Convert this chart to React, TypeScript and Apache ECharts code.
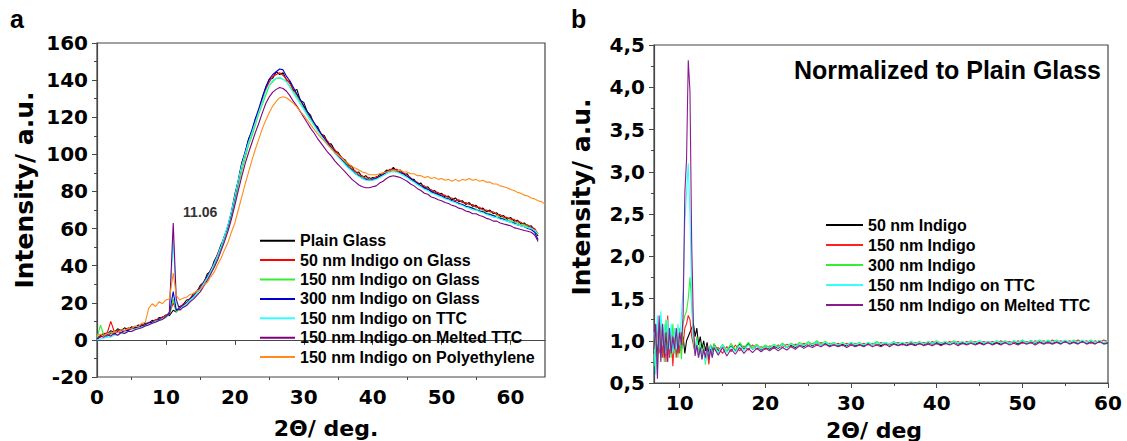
import React, { useEffect, useRef } from "react";
import * as echarts from "echarts";

// ---------- Panel a: raw XRD intensity ----------
const peakTheta = 11.06;

const thetaA = [
  0, 0.5, 1, 1.5, 2, 2.5, 3, 3.5, 4, 4.5, 5, 5.5, 6, 6.5, 7, 7.5, 8, 8.5, 9, 9.5, 10, 10.5, peakTheta, 11.5,
  12, 12.5, 13, 13.5, 14, 14.5, 15, 15.5, 16, 16.5, 17, 17.5, 18, 18.5, 19, 19.5, 20, 20.5, 21, 21.5, 22, 22.5,
  23, 23.5, 24, 24.5, 25, 25.5, 26, 26.5, 27, 27.5, 28, 28.5, 29, 29.5, 30, 30.5, 31, 31.5, 32, 32.5, 33, 33.5,
  34, 34.5, 35, 35.5, 36, 36.5, 37, 37.5, 38, 38.5, 39, 39.5, 40, 40.5, 41, 41.5, 42, 42.5, 43, 43.5, 44, 44.5,
  45, 45.5, 46, 46.5, 47, 47.5, 48, 48.5, 49, 49.5, 50, 50.5, 51, 51.5, 52, 52.5, 53, 53.5, 54, 54.5, 55, 55.5,
  56, 56.5, 57, 57.5, 58, 58.5, 59, 59.5, 60, 60.5, 61, 61.5, 62, 62.5, 63, 63.5, 64, 64.5, 65,
];

const plainGlass = [
  0.5, 2.5, 3.5, 3, 5, 4, 6, 5, 6.5, 5.5, 7, 6.5, 8, 7.5, 9, 9, 10.5, 10, 12, 12, 13.5, 13, 16, 15,
  18, 19, 21.5, 22, 25, 26, 29.5, 31, 35.5, 37, 42.5, 46, 51.5, 55, 61.5, 69, 78.5, 86, 95.5, 101, 108.5, 112,
  119.5, 123, 130.5, 136, 140.5, 141, 144.5, 143, 144, 140, 139, 134, 135, 129, 128, 123, 121, 116, 115, 111, 110, 106,
  105.5, 102, 101, 98, 97, 94, 93.5, 90, 90.5, 87.5, 88.5, 86.5, 87.5, 87, 89, 89.5, 91.5, 91, 93, 91, 91.5, 89,
  89.5, 86.5, 86.5, 84, 84.5, 82, 82.5, 80, 80.5, 78.5, 79, 77, 77.5, 75.5, 76.5, 74.5, 75, 73, 74, 72, 72.5, 70.5,
  71, 69, 70, 68, 68.5, 66.5, 67, 65, 66, 64, 64.5, 62.5, 63, 61, 61.5, 59, 56,
];

const indigo50Glass = [
  1, 2, 3, 4, 10, 4.5, 5, 5.5, 5, 6.5, 6, 7, 7, 8.5, 8, 9.5, 9.5, 11, 11, 12.5, 13, 14, 20, 16,
  17, 19.5, 20, 22.5, 24, 26.5, 28.5, 31.5, 34, 38, 41, 46.5, 50, 56, 60, 68, 77, 85, 94, 100, 107, 112,
  118, 124, 129, 135, 139, 142, 143, 144, 142.5, 140.5, 138, 135, 132, 129, 126, 123, 120, 117, 114, 111.5, 109, 107,
  104, 102.5, 100, 98.5, 96, 94.5, 92, 91, 89, 88.5, 87, 87.5, 86.5, 88, 88, 90, 90.5, 92, 91.5, 92, 90.5, 90,
  88.5, 87.5, 85.5, 85, 83, 83, 81, 81, 79.5, 79.5, 78, 78, 76.5, 76.5, 75, 75.5, 74, 74, 73, 73, 71.5, 71.5,
  70, 70, 69, 69, 67.5, 67.5, 66, 66, 65, 65, 63.5, 63.5, 62, 62, 60.5, 60, 57,
];

const indigo150Glass = [
  1, 8, 2.5, 3, 4, 3.5, 4.5, 4, 5, 5, 6, 6, 7, 7, 8, 8.5, 9, 10, 10.5, 11.5, 12, 14, 22, 15,
  16.5, 18, 19.5, 21, 23, 25, 27.5, 30, 33, 36.5, 40, 44.5, 49, 54.5, 60, 66, 74, 83, 91, 98, 105, 110,
  116, 122, 127, 132, 137, 139, 141, 141, 140.5, 139, 136.5, 133.5, 131, 127.5, 125, 121.5, 119, 116, 113, 110.5, 108, 105.5,
  103.5, 101, 99.5, 97, 95.5, 93.5, 91.5, 90, 88.5, 87.5, 86.5, 86.5, 86, 87, 87.5, 89, 90, 91, 91, 90.5, 90, 89,
  88, 86.5, 85.5, 84, 83, 81.5, 81, 79.5, 79, 78, 77.5, 76.5, 76, 75, 74.5, 73.5, 73, 72, 72, 71, 70.5, 69.5,
  69.5, 68.5, 68, 67, 67, 66, 65.5, 64.5, 64.5, 63.5, 63, 62, 62, 61, 60, 59, 57,
];

const indigo300Glass = [
  0.5, 1.5, 2.5, 2, 3.5, 3, 4.5, 4, 5, 5, 6, 6.5, 7, 7.5, 8, 9, 9.5, 10, 11, 11.5, 12.5, 14, 26, 16,
  17, 18.5, 20, 22, 23.5, 26, 28, 31, 34, 37.5, 41, 45.5, 50.5, 56, 61.5, 68.5, 77, 86, 94.5, 101.5, 108, 113.5,
  119.5, 125, 131, 136.5, 140.5, 143, 144.5, 146, 145.5, 142, 139.5, 136, 132.5, 129.5, 126, 123, 120, 117, 114, 111, 108.5, 106,
  103.5, 101.5, 99, 97, 95, 93, 91.5, 89.5, 88.5, 87, 86.5, 86, 86.5, 87, 88, 89, 90.5, 91, 91.5, 91, 90, 89.5,
  88, 87, 85.5, 84.5, 83, 82, 81, 80, 79, 78.5, 77.5, 76.5, 76, 75, 74.5, 73.5, 73, 72, 71.5, 71, 70, 69.5,
  69, 68, 67.5, 67, 66, 65.5, 65, 64, 63.5, 63, 62, 61.5, 61, 60, 59.5, 58, 54,
];

const indigo150TTC = [
  0, 0.5, 1, 1.5, 1.5, 2.5, 2.5, 3.5, 3.5, 4.5, 4.5, 5.5, 6, 7, 7.5, 8.5, 9, 10, 10.5, 11.5, 12.5, 15, 55, 20,
  16.5, 18, 19.5, 21.5, 23, 25.5, 27.5, 30.5, 33.5, 37, 41, 45.5, 50.5, 56, 62, 69, 77.5, 86, 94, 100.5, 106.5, 112,
  117.5, 123, 128.5, 134, 137.5, 140, 141, 141.5, 140.5, 139, 136, 133, 130, 127, 124, 121, 118, 115.5, 112.5, 110, 107.5, 105,
  103, 100.5, 98.5, 96.5, 94.5, 92.5, 91, 89.5, 88, 87, 86, 86, 86, 86.5, 87.5, 88.5, 89.5, 90.5, 90.5, 90.5, 89.5, 88.5,
  87.5, 86, 85, 83.5, 82.5, 81, 80.5, 79, 78.5, 77.5, 77, 76, 75.5, 74.5, 74, 73, 72.5, 71.5, 71, 70, 70, 69,
  68.5, 67.5, 67, 66, 66, 65, 64.5, 64, 63.5, 62.5, 62, 61.5, 61, 60.5, 60, 59, 57,
];

const indigo150MeltedTTC = [
  0.5, 2, 1.5, 3, 2, 3.5, 2.5, 4, 3.5, 4.5, 4.5, 5.5, 6, 6.5, 7.5, 8, 9, 9.5, 10.5, 11, 12.5, 15, 63, 22,
  16, 17.5, 18.5, 20.5, 22, 24, 26, 29, 32, 35.5, 39, 43, 48, 53, 58.5, 65, 72.5, 80.5, 88, 95, 101, 106.5,
  112, 117, 122.5, 127.5, 131, 133.5, 135, 136, 135.5, 134, 131.5, 128.5, 126, 123, 120, 117, 114, 111.5, 108.5, 106, 103.5, 101,
  99, 96.5, 94.5, 92.5, 90.5, 88.5, 86.5, 85, 83.5, 82.5, 82, 82, 82.5, 83, 84.5, 85.5, 87, 88, 88.5, 88, 87.5, 86.5,
  85.5, 84, 83, 81.5, 80.5, 79, 78.5, 77, 76.5, 75.5, 75, 74, 73.5, 72.5, 72, 71, 70.5, 69.5, 69, 68, 68, 67,
  66.5, 65.5, 65, 64, 64, 63, 62.5, 62, 61.5, 60.5, 60, 59.5, 59, 58.5, 58, 56.5, 53,
];

const indigo150PE = [
  2.5, 3, 2, 3.5, 3, 4.5, 4, 5.5, 5, 6, 6, 7.5, 7, 9, 9.5, 17, 19.5, 18, 20.5, 19.5, 21.5, 22, 36, 24,
  21.5, 22.5, 23, 24.5, 25, 26.5, 27, 29.5, 31, 34, 36.5, 40.5, 44, 48.5, 52.5, 58, 63, 70, 77, 84, 90.5, 97,
  103, 108.5, 114, 118.5, 122.5, 126, 128.5, 130.5, 131, 130.5, 129, 127.5, 125.5, 123, 121, 118.5, 116, 113.5, 111, 109, 107, 105,
  103, 101, 99.5, 98, 96.5, 95, 93.5, 92.5, 91.5, 90.5, 90, 89, 89, 89, 89.5, 90, 90.5, 91, 91.5, 91, 91.5, 90.5,
  90.5, 89.5, 89.5, 88.5, 88.5, 87.5, 88, 87, 87.5, 86.5, 87, 86, 86.5, 85.5, 86.5, 85.5, 86.5, 86, 87, 86, 86.5, 85.5,
  86, 85, 85, 84, 84, 83, 82.5, 82, 81, 80.5, 79.5, 79, 78, 77.5, 76.5, 76, 75, 74.5, 73,
];

const namesA = [
  "Plain Glass",
  "50 nm Indigo on Glass",
  "150 nm Indigo on Glass",
  "300 nm Indigo on Glass",
  "150 nm Indigo on TTC",
  "150 nm Indigo on Melted TTC",
  "150 nm Indigo on Polyethylene",
];
const valuesA = [plainGlass, indigo50Glass, indigo150Glass, indigo300Glass, indigo150TTC, indigo150MeltedTTC, indigo150PE];
const colorsA = ["#000000", "#ff0000", "#33ee33", "#0000d0", "#33ffff", "#800080", "#ff8c1a"];

const xTicksA = [0, 10, 20, 30, 40, 50, 60];
const xMinorA = [5, 15, 25, 35, 45, 55];

// ---------- Panel b: normalised to plain glass ----------
const thetaB = [
  7, 7.2, 7.4, 7.6, 7.8, 8, 8.2, 8.4, 8.6, 8.8, 9, 9.2, 9.4, 9.6, 9.8, 10, 10.2, 10.4, 10.6, 10.8, 11, 11.2, 11.4, 11.6,
  11.8, 12, 12.2, 12.4, 12.6, 12.8, 13, 13.2, 13.4, 13.6, 13.8, 14,
  14.5, 15, 15.5, 16, 16.5, 17, 17.5, 18, 18.5, 19, 19.5, 20, 20.5, 21, 21.5, 22, 22.5, 23, 23.5, 24, 24.5, 25,
  25.5, 26, 26.5, 27, 27.5, 28, 28.5, 29, 29.5, 30, 30.5, 31, 31.5, 32, 32.5, 33, 33.5, 34, 34.5, 35, 35.5, 36,
  36.5, 37, 37.5, 38, 38.5, 39, 39.5, 40, 40.5, 41, 41.5, 42, 42.5, 43, 43.5, 44, 44.5, 45, 45.5, 46, 46.5, 47,
  47.5, 48, 48.5, 49, 49.5, 50, 50.5, 51, 51.5, 52, 52.5, 53, 53.5, 54, 54.5, 55, 55.5, 56, 56.5, 57, 57.5, 58,
  58.5, 59, 59.5, 60,
];

const norm50 = [
  0.85, 1.1, 0.8, 1.15, 0.9, 1.05, 0.85, 1.1, 0.9, 1.05, 0.88, 1.1, 0.92, 1.05, 0.9, 1.0, 0.88, 1.05, 0.85, 1.0, 1.05, 1.1, 1.15, 1.2,
  1.05, 1.15, 0.95, 1.05, 0.9, 1.0, 0.88, 0.98, 0.85, 0.95, 0.88, 0.96,
  0.88, 0.95, 0.87, 0.94, 0.88, 0.96, 0.9, 0.97, 0.9, 0.94, 0.89, 0.93, 0.9, 0.94, 0.91, 0.95, 0.92, 0.95, 0.92, 0.96, 0.93, 0.97,
  0.94, 0.98, 0.95, 0.97, 0.94, 0.97, 0.94, 0.96, 0.94, 0.97, 0.94, 0.96, 0.94, 0.97, 0.95, 0.97, 0.94, 0.98, 0.95, 0.97, 0.95, 0.97,
  0.95, 0.98, 0.95, 0.97, 0.95, 0.98, 0.96, 0.98, 0.95, 0.98, 0.96, 0.99, 0.96, 0.98, 0.96, 0.99, 0.96, 0.98, 0.96, 0.99, 0.96, 0.98,
  0.96, 0.99, 0.97, 0.99, 0.96, 0.99, 0.97, 1.0, 0.97, 0.99, 0.97, 1.0, 0.97, 0.99, 0.97, 1.0, 0.97, 0.99, 0.97, 1.0, 0.97, 0.99,
  0.97, 1.0, 0.97, 0.98,
];

const norm150 = [
  1.0, 0.75, 1.2, 0.85, 1.25, 0.8, 1.1, 0.75, 1.3, 0.8, 1.1, 0.7, 1.05, 0.8, 1.1, 0.85, 1.1, 0.95, 1.15, 1.2, 1.3, 1.25, 1.05, 0.95,
  0.85, 1.0, 0.82, 0.95, 0.8, 0.92, 0.78, 0.9, 0.72, 0.92, 0.82, 0.9,
  0.92, 0.85, 0.93, 0.87, 0.95, 0.88, 0.94, 0.89, 0.95, 0.9, 0.93, 0.9, 0.94, 0.91, 0.95, 0.92, 0.96, 0.93, 0.96, 0.94, 0.97, 0.94,
  0.97, 0.95, 0.98, 0.95, 0.97, 0.95, 0.97, 0.94, 0.97, 0.95, 0.97, 0.95, 0.97, 0.95, 0.97, 0.95, 0.98, 0.95, 0.97, 0.96, 0.98, 0.95,
  0.98, 0.96, 0.98, 0.96, 0.98, 0.96, 0.99, 0.96, 0.98, 0.96, 0.99, 0.97, 0.99, 0.96, 0.99, 0.97, 0.99, 0.97, 0.99, 0.97, 0.99, 0.97,
  1.0, 0.97, 0.99, 0.97, 1.0, 0.97, 0.99, 0.97, 1.0, 0.98, 1.0, 0.97, 1.01, 0.98, 1.0, 0.98, 1.0, 0.98, 1.01, 0.98, 1.0, 0.97,
  1.0, 0.98, 1.01, 0.99,
];

const norm300 = [
  0.7, 1.1, 0.65, 1.2, 0.8, 1.15, 0.75, 1.25, 0.85, 1.1, 0.8, 1.2, 0.85, 1.1, 0.8, 1.15, 0.78, 1.2, 1.3, 1.35, 1.5, 1.75, 1.45, 1.0,
  0.9, 1.05, 0.85, 0.98, 0.8, 0.95, 0.72, 0.92, 0.8, 0.95, 0.84, 0.97,
  0.86, 0.96, 0.88, 0.97, 0.89, 0.98, 0.91, 0.98, 0.92, 0.96, 0.91, 0.95, 0.92, 0.96, 0.93, 0.97, 0.93, 0.97, 0.94, 0.98, 0.95, 0.99,
  0.96, 1.0, 0.96, 0.99, 0.96, 0.98, 0.95, 0.98, 0.95, 0.98, 0.96, 0.98, 0.95, 0.98, 0.96, 0.99, 0.96, 0.98, 0.96, 0.99, 0.96, 0.98,
  0.96, 0.99, 0.97, 0.99, 0.96, 0.99, 0.97, 1.0, 0.97, 0.99, 0.97, 1.0, 0.97, 0.99, 0.97, 1.0, 0.97, 1.0, 0.97, 0.99, 0.97, 1.0,
  0.98, 1.0, 0.97, 1.0, 0.98, 1.01, 0.98, 1.0, 0.98, 1.01, 0.98, 1.0, 0.98, 1.01, 0.98, 1.0, 0.98, 1.01, 0.98, 1.0, 0.98, 1.01,
  0.98, 1.0, 0.98, 1.0,
];

const normTTC = [
  1.1, 0.6, 1.3, 0.9, 1.35, 0.95, 1.2, 0.85, 1.25, 0.9, 1.2, 0.85, 1.15, 0.9, 1.2, 0.95, 1.3, 1.6, 2.4, 2.75, 3.1, 2.5, 1.5, 1.05,
  0.85, 1.0, 0.8, 0.95, 0.78, 0.9, 0.74, 0.9, 0.82, 0.94, 0.8, 0.93,
  0.86, 0.95, 0.86, 0.93, 0.87, 0.95, 0.88, 0.95, 0.9, 0.94, 0.9, 0.93, 0.91, 0.95, 0.92, 0.95, 0.92, 0.96, 0.93, 0.96, 0.94, 0.97,
  0.95, 0.98, 0.95, 0.98, 0.95, 0.97, 0.95, 0.97, 0.95, 0.98, 0.95, 0.97, 0.95, 0.98, 0.95, 0.97, 0.96, 0.98, 0.96, 0.98, 0.96, 0.98,
  0.96, 0.99, 0.96, 0.98, 0.96, 0.99, 0.96, 0.99, 0.97, 0.99, 0.96, 0.99, 0.97, 0.99, 0.97, 0.99, 0.97, 1.0, 0.97, 0.99, 0.97, 1.0,
  0.97, 0.99, 0.97, 1.0, 0.98, 1.0, 0.97, 1.0, 0.98, 1.0, 0.98, 1.01, 0.98, 1.0, 0.98, 1.01, 0.98, 1.0, 0.98, 1.01, 0.98, 1.0,
  0.98, 1.0, 0.98, 0.99,
];

const normMeltedTTC = [
  0.9, 1.2, 0.55, 1.3, 0.75, 1.2, 0.8, 1.1, 0.75, 1.15, 0.85, 1.05, 0.9, 1.15, 0.85, 1.1, 0.95, 1.3, 2.75, 3.15, 4.32, 3.95, 2.15, 1.2,
  0.82, 0.95, 0.8, 0.92, 0.78, 0.9, 0.8, 0.95, 0.78, 0.9, 0.8, 0.92,
  0.83, 0.92, 0.82, 0.9, 0.84, 0.92, 0.85, 0.91, 0.86, 0.91, 0.87, 0.91, 0.88, 0.92, 0.88, 0.92, 0.89, 0.93, 0.9, 0.94, 0.91, 0.94,
  0.92, 0.95, 0.93, 0.96, 0.93, 0.95, 0.93, 0.95, 0.92, 0.95, 0.93, 0.95, 0.93, 0.96, 0.93, 0.95, 0.93, 0.96, 0.93, 0.96, 0.94, 0.96,
  0.94, 0.96, 0.94, 0.97, 0.94, 0.96, 0.94, 0.97, 0.94, 0.97, 0.95, 0.97, 0.94, 0.97, 0.95, 0.97, 0.95, 0.97, 0.95, 0.98, 0.95, 0.97,
  0.95, 0.98, 0.95, 0.97, 0.95, 0.98, 0.96, 0.98, 0.95, 0.98, 0.96, 0.98, 0.96, 0.98, 0.96, 0.99, 0.96, 0.98, 0.96, 0.99, 0.96, 0.98,
  0.96, 0.99, 0.96, 0.97,
];

const namesB = [
  "50 nm Indigo",
  "150 nm Indigo",
  "300 nm Indigo",
  "150 nm Indigo on TTC",
  "150 nm Indigo on Melted TTC",
];
const valuesB = [norm50, norm150, norm300, normTTC, normMeltedTTC];
const colorsB = ["#000000", "#ff2020", "#33ee33", "#33ffff", "#8a1a8f"];

const xTicksB = [10, 20, 30, 40, 50, 60];
const xMinorB = [15, 25, 35, 45, 55];

const AXIS_COLOR = "#474747";
const TICK_FONT = "DejaVu Sans";
const TEXT_FONT = "Liberation Sans";

const pair = (xs: number[], ys: number[]) => ys.map((y, i) => [xs[i], y]);

const tickLabelStyle = {
  fontFamily: TICK_FONT,
  fontWeight: "bold" as const,
  fontSize: 20,
  color: "#000",
};

function buildOption() {
  const lineAxis = { show: true, lineStyle: { color: AXIS_COLOR, width: 1.2 } };

  const xAxis: any[] = [
    {
      type: "value", gridIndex: 0, min: 0, max: 65, position: "bottom",
      axisLine: lineAxis,
      axisTick: { show: true, length: 5, customValues: xTicksA, lineStyle: { color: AXIS_COLOR } },
      axisLabel: { ...tickLabelStyle, margin: 10, customValues: xTicksA },
      splitLine: { show: false },
    },
    {
      type: "value", gridIndex: 0, min: 0, max: 65, position: "bottom",
      axisLine: { show: false },
      axisTick: { show: true, length: 3, customValues: xMinorA, lineStyle: { color: AXIS_COLOR } },
      axisLabel: { show: false },
      splitLine: { show: false },
    },
    {
      type: "value", gridIndex: 1, min: 7, max: 60, position: "bottom",
      axisLine: lineAxis,
      axisTick: { show: true, length: 5, customValues: xTicksB, lineStyle: { color: AXIS_COLOR } },
      axisLabel: { ...tickLabelStyle, margin: 10, customValues: xTicksB },
      splitLine: { show: false },
    },
    {
      type: "value", gridIndex: 1, min: 7, max: 60, position: "bottom",
      axisLine: { show: false },
      axisTick: { show: true, length: 3, customValues: xMinorB, lineStyle: { color: AXIS_COLOR } },
      axisLabel: { show: false },
      splitLine: { show: false },
    },
  ];

  const yAxis: any[] = [
    {
      type: "value", gridIndex: 0, min: -20, max: 160, interval: 20,
      axisLine: lineAxis,
      axisTick: { show: true, length: 5, lineStyle: { color: AXIS_COLOR } },
      minorTick: { show: true, splitNumber: 2, length: 3, lineStyle: { color: AXIS_COLOR } },
      axisLabel: { ...tickLabelStyle, margin: 9 },
      splitLine: { show: false },
      minorSplitLine: { show: false },
    },
    {
      type: "value", gridIndex: 1, min: 0.5, max: 4.5, interval: 0.5,
      axisLine: lineAxis,
      axisTick: { show: true, length: 5, lineStyle: { color: AXIS_COLOR } },
      minorTick: { show: true, splitNumber: 2, length: 3, lineStyle: { color: AXIS_COLOR } },
      axisLabel: {
        ...tickLabelStyle,
        margin: 9,
        formatter: (v: number) => v.toFixed(1).replace(".", ","),
      },
      splitLine: { show: false },
      minorSplitLine: { show: false },
    },
  ];

  const seriesA = namesA.map((name, i) => {
    const s: any = {
      type: "line",
      name,
      xAxisIndex: 0,
      yAxisIndex: 0,
      data: pair(thetaA, valuesA[i]),
      symbol: "none",
      lineStyle: { width: 1.1, color: colorsA[i] },
      itemStyle: { color: colorsA[i] },
      z: 2 + i,
    };
    if (name === "150 nm Indigo on Melted TTC") {
      const peakValue = valuesA[i][thetaA.indexOf(peakTheta)];
      s.markPoint = {
        symbol: "circle",
        symbolSize: 0,
        data: [{ coord: [peakTheta, peakValue] }],
        label: {
          show: true,
          formatter: () => peakTheta.toFixed(2),
          offset: [27, -11],
          color: "#333",
          fontFamily: TEXT_FONT,
          fontWeight: "bold",
          fontSize: 14,
        },
      };
    }
    return s;
  });

  const seriesB = namesB.map((name, i) => ({
    type: "line",
    name,
    xAxisIndex: 2,
    yAxisIndex: 1,
    data: pair(thetaB, valuesB[i]),
    symbol: "none",
    lineStyle: { width: 1.1, color: colorsB[i] },
    itemStyle: { color: colorsB[i] },
    z: 2 + i,
  }));

  const legendText = {
    fontFamily: TEXT_FONT,
    fontWeight: "bold" as const,
    fontSize: 16,
    color: "#000",
  };

  return {
    animation: false,
    backgroundColor: "#ffffff",
    grid: [
      { left: 97, top: 43, width: 448, height: 334, show: true, borderColor: AXIS_COLOR, borderWidth: 1.2, backgroundColor: "transparent" },
      { left: 654, top: 45, width: 454, height: 338, show: true, borderColor: AXIS_COLOR, borderWidth: 1.2, backgroundColor: "transparent" },
    ],
    xAxis,
    yAxis,
    legend: [
      {
        orient: "vertical",
        left: 260,
        top: 231,
        icon: "rect",
        itemWidth: 35,
        itemHeight: 2,
        itemGap: 0,
        padding: 0,
        selectedMode: false,
        data: namesA.map((n, i) => ({ name: n, itemStyle: { color: colorsA[i] } })),
        textStyle: { ...legendText, lineHeight: 19.4 },
      },
      {
        orient: "vertical",
        left: 826,
        top: 215,
        icon: "rect",
        itemWidth: 37,
        itemHeight: 2,
        itemGap: 0,
        padding: 0,
        selectedMode: false,
        data: namesB.map((n, i) => ({ name: n, itemStyle: { color: colorsB[i] } })),
        textStyle: { ...legendText, lineHeight: 20 },
      },
    ],
    graphic: [
      { type: "text", left: 10, top: 6, style: { text: "a", font: `bold 25px '${TEXT_FONT}'`, fill: "#000" } },
      { type: "text", left: 571, top: 6, style: { text: "b", font: `bold 25px '${TEXT_FONT}'`, fill: "#000" } },
      {
        type: "text", x: 1101, y: 70,
        style: { text: "Normalized to Plain Glass", font: `bold 25px '${TEXT_FONT}'`, fill: "#000", textAlign: "right", textVerticalAlign: "middle" },
      },
      {
        type: "text", x: 24, y: 190, rotation: Math.PI / 2,
        style: { text: "Intensity/ a.u.", font: `bold 25px '${TICK_FONT}'`, fill: "#000", textAlign: "center", textVerticalAlign: "middle" },
      },
      {
        type: "text", x: 581, y: 197, rotation: Math.PI / 2,
        style: { text: "Intensity/ a.u.", font: `bold 25px '${TICK_FONT}'`, fill: "#000", textAlign: "center", textVerticalAlign: "middle" },
      },
      {
        type: "text", x: 326, y: 428,
        style: { text: "2Θ/ deg.", font: `bold 22px '${TICK_FONT}'`, fill: "#000", textAlign: "center", textVerticalAlign: "middle" },
      },
      {
        type: "text", x: 874, y: 430,
        style: { text: "2Θ/ deg", font: `bold 22px '${TICK_FONT}'`, fill: "#000", textAlign: "center", textVerticalAlign: "middle" },
      },
    ],
    series: [...seriesA, ...seriesB],
  };
}

export default function App() {
  const ref = useRef<HTMLDivElement>(null);

  useEffect(() => {
    if (!ref.current) return;
    const chart = echarts.init(ref.current, undefined, { renderer: "svg" });
    chart.setOption(buildOption() as any);
    return () => chart.dispose();
  }, []);

  return (
    <div
      ref={ref}
      style={{ position: "fixed", left: 0, top: 0, width: 1127, height: 441, background: "#fff" }}
    />
  );
}
